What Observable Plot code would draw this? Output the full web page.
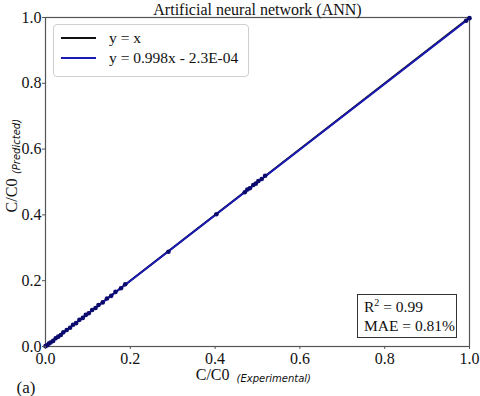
<!DOCTYPE html>
<html><head><meta charset="utf-8">
<script src="https://cdn.jsdelivr.net/npm/d3@7"></script>
<script src="https://cdn.jsdelivr.net/npm/@observablehq/plot@0.6"></script>
<style>
body{margin:0;background:#fff}
#wrap{position:relative;width:480px;height:396px;font-family:"Liberation Serif","Times New Roman",serif;color:#111}
.legend{position:absolute;left:53px;top:24px;width:194px;height:51px;border:1px solid #cfcfcf;border-radius:4px;background:rgba(255,255,255,0.85);font-size:15.5px}
.legend .row{position:absolute;left:0;height:20px;display:flex;align-items:center;white-space:nowrap}
.legend .sw{display:inline-block;width:35px;height:2px;margin-left:7px;margin-right:13px}
.stats{position:absolute;left:357px;top:294px;width:100px;height:44px;border:1px solid #333;background:#fff;font-size:15.5px;line-height:19px;padding-left:6px;box-sizing:border-box;padding-top:2px;white-space:nowrap}
</style>
</head><body><div id="wrap"></div>
<script>
const experimental = [0.000,0.004,0.008,0.012,0.018,0.024,0.030,0.036,0.042,0.050,0.058,0.065,0.072,0.080,0.088,0.095,0.102,0.110,0.118,0.125,0.135,0.145,0.155,0.165,0.178,0.188,0.290,0.403,0.470,0.476,0.482,0.490,0.496,0.502,0.510,0.518,0.992,1.000];
const predicted    = [0.001,0.004,0.009,0.012,0.017,0.025,0.030,0.035,0.043,0.050,0.057,0.066,0.071,0.081,0.087,0.096,0.101,0.111,0.117,0.126,0.134,0.146,0.154,0.166,0.177,0.189,0.288,0.402,0.469,0.477,0.481,0.491,0.495,0.503,0.509,0.519,0.990,0.998];
const ticks = [0.0,0.2,0.4,0.6,0.8,1.0];
const fitSlope = 0.998, fitIntercept = -2.3e-4;
const lineEnds = [0, 1];
const titleText = "Artificial neural network (ANN)";
const legendLabels = ["y = x", "y = 0.998x - 2.3E-04"];
const legendColors = ["#111111", "#1a1ab4"];

const points = experimental.map((e, i) => ({e, p: predicted[i]}));
const serif = "Liberation Serif, Times New Roman, serif";
const sans = "DejaVu Sans, sans-serif";

const chart = Plot.plot({
  width: 480, height: 396,
  marginLeft: 45, marginRight: 11, marginTop: 17, marginBottom: 50,
  x: {domain: [0, 1], ticks, tickFormat: d3.format(".1f")},
  y: {domain: [0, 1], ticks, tickFormat: d3.format(".1f")},
  style: {fontFamily: serif, fontSize: "16px", color: "#111", background: "#fff"},
  marks: [
    Plot.frame({stroke: "#555", strokeWidth: 1.2}),
    Plot.line(lineEnds, {x: d => d, y: d => d, stroke: legendColors[0], strokeWidth: 2}),
    Plot.line(lineEnds, {x: d => d, y: d => fitSlope * d + fitIntercept, stroke: legendColors[1], strokeWidth: 2}),
    Plot.dot(points, {x: "e", y: "p", r: 2.3, fill: "#0b0b6e", stroke: "none"}),
    Plot.axisX({ticks, tickFormat: d3.format(".1f"), tickSize: 3, tickPadding: 3, label: null, fontSize: 16, fill: "#111", stroke: "#555"}),
    Plot.axisY({ticks, tickFormat: d3.format(".1f"), tickSize: 3, tickPadding: 1, label: null, fontSize: 16, fill: "#111", stroke: "#555"}),
    Plot.text([titleText], {text: d => d, frameAnchor: "top", lineAnchor: "middle", dy: -8, fontSize: 16, fill: "#111"}),
    Plot.text(["C/C0"], {text: d => d, frameAnchor: "bottom", lineAnchor: "middle", textAnchor: "end", dx: -28, dy: 28, fontSize: 16, fill: "#111"}),
    Plot.text(["(Experimental)"], {text: d => d, frameAnchor: "bottom", lineAnchor: "middle", textAnchor: "start", dx: -21, dy: 32, fontSize: 10, fontStyle: "italic", fontFamily: sans, fill: "#111"}),
    Plot.text(["C/C0"], {text: d => d, frameAnchor: "left", lineAnchor: "middle", textAnchor: "middle", rotate: -90, dx: -34, dy: 13.5, fontSize: 16, fill: "#111"}),
    Plot.text(["(Predicted)"], {text: d => d, frameAnchor: "left", lineAnchor: "middle", textAnchor: "middle", rotate: -90, dx: -29, dy: -35.5, fontSize: 10, fontStyle: "italic", fontFamily: sans, fill: "#111"}),
    Plot.text(["(a)"], {text: d => d, frameAnchor: "bottom-left", lineAnchor: "middle", textAnchor: "start", dx: -29, dy: 41, fontSize: 17, fill: "#111"})
  ]
});

const wrap = document.getElementById("wrap");
wrap.appendChild(chart);

const legend = document.createElement("div");
legend.className = "legend";
legendLabels.forEach((lab, i) => {
  const row = document.createElement("div");
  row.className = "row";
  row.style.top = (3 + i * 20) + "px";
  const sw = document.createElement("span");
  sw.className = "sw";
  sw.style.background = legendColors[i];
  const t = document.createElement("span");
  t.textContent = lab;
  row.appendChild(sw); row.appendChild(t);
  legend.appendChild(row);
});
wrap.appendChild(legend);

const stats = document.createElement("div");
stats.className = "stats";
stats.innerHTML = "R<sup style='font-size:10px;vertical-align:6px;line-height:0'>2</sup> = 0.99<br>MAE = 0.81%";
wrap.appendChild(stats);
</script>
</body></html>
